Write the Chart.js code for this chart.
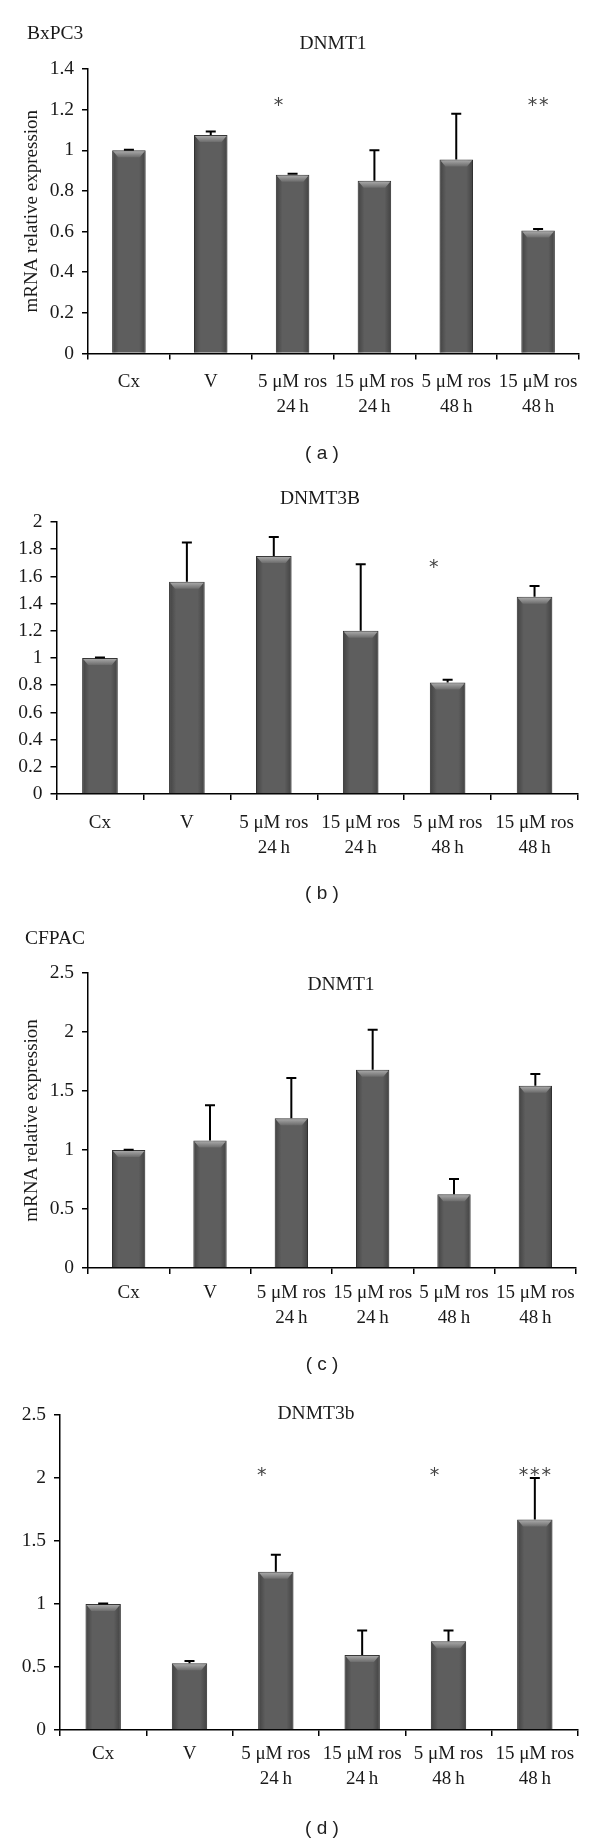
<!DOCTYPE html>
<html>
<head>
<meta charset="utf-8">
<script src="https://cdn.jsdelivr.net/npm/chart.js@4"></script>
<style>
  html, body { margin: 0; padding: 0; background: #fff; }
  body { width: 600px; height: 1842px; position: relative; overflow: hidden; }
  canvas { position: absolute; left: 0; }
  .t { position: absolute; font-family: "Liberation Serif", serif; font-size: 19.5px; color: #1a1a1a; white-space: nowrap; transform: translate(-50%, -50%); line-height: 1; }
  .l { transform: translate(0, -50%); }
  .p { font-family: "Liberation Sans", sans-serif; font-size: 19px; color: #222; }
</style>
</head>
<body>
<canvas id="ca" width="600" height="460" style="top:0px"></canvas>
<canvas id="cb" width="600" height="460" style="top:460px"></canvas>
<canvas id="cc" width="600" height="460" style="top:920px"></canvas>
<canvas id="cd" width="600" height="462" style="top:1380px"></canvas>

<div class="t l" style="left:27px; top:33px;">BxPC3</div>
<div class="t" style="left:333px; top:43px;">DNMT1</div>
<div class="t p" style="left:322px; top:452px;">( a )</div>

<div class="t" style="left:320px; top:498px;">DNMT3B</div>
<div class="t p" style="left:322px; top:892px;">( b )</div>

<div class="t l" style="left:25px; top:938px;">CFPAC</div>
<div class="t" style="left:341px; top:984px;">DNMT1</div>
<div class="t p" style="left:322px; top:1363px;">( c )</div>

<div class="t" style="left:316px; top:1413px;">DNMT3b</div>
<div class="t p" style="left:322px; top:1827px;">( d )</div>

<script>
// ---------- DATA ----------
const categories = [
  ['Cx'],
  ['V'],
  ['5 \u03BCM ros', '24\u2009h'],
  ['15 \u03BCM ros', '24\u2009h'],
  ['5 \u03BCM ros', '48\u2009h'],
  ['15 \u03BCM ros', '48\u2009h']
];

// (a) BxPC3 DNMT1
const bxpc3Dnmt1 = [1.0, 1.075, 0.88, 0.85, 0.955, 0.605];
const bxpc3Dnmt1Sd = [0.003, 0.017, 0.004, 0.15, 0.225, 0.008];
const bxpc3Dnmt1Stars = ['', '', '*', '', '', '**'];
const bxpc3Dnmt1StarLevel = 1.247;
const bxpc3Dnmt1YMax = 1.4, bxpc3Dnmt1YStep = 0.2;

// (b) BxPC3 DNMT3B
const bxpc3Dnmt3b = [1.0, 1.56, 1.75, 1.20, 0.82, 1.45];
const bxpc3Dnmt3bSd = [0.003, 0.29, 0.14, 0.49, 0.02, 0.08];
const bxpc3Dnmt3bStars = ['', '', '', '', '*', ''];
const bxpc3Dnmt3bStarLevel = 1.70;
const bxpc3Dnmt3bYMax = 2, bxpc3Dnmt3bYStep = 0.2;

// (c) CFPAC DNMT1
const cfpacDnmt1 = [1.0, 1.08, 1.27, 1.68, 0.625, 1.545];
const cfpacDnmt1Sd = [0.003, 0.30, 0.34, 0.34, 0.13, 0.10];
const cfpacDnmt1Stars = ['', '', '', '', '', ''];
const cfpacDnmt1StarLevel = 2.0;
const cfpacDnmt1YMax = 2.5, cfpacDnmt1YStep = 0.5;

// (d) CFPAC DNMT3b
const cfpacDnmt3b = [1.0, 0.53, 1.255, 0.595, 0.705, 1.67];
const cfpacDnmt3bSd = [0.003, 0.017, 0.135, 0.195, 0.085, 0.33];
const cfpacDnmt3bStars = ['', '', '*', '', '*', '***'];
const cfpacDnmt3bStarLevel = 2.063;
const cfpacDnmt3bYMax = 2.5, cfpacDnmt3bYStep = 0.5;

const yTitleText = 'mRNA relative expression';

// ---------- DRAWING ----------
const SERIF = '"Liberation Serif", serif';

const barDecor = {
  id: 'barDecor',
  afterDatasetsDraw(chart, args, opts) {
    const ctx = chart.ctx;
    const meta = chart.getDatasetMeta(0);
    const ys = chart.scales.y;
    const data = chart.data.datasets[0].data;
    ctx.save();
    meta.data.forEach((bar, i) => {
      const p = bar.getProps(['x', 'y', 'base', 'width'], true);
      const x = p.x, y = p.y, base = p.base, w = p.width;
      const l = x - w / 2, r = x + w / 2;
      // side shading
      const g = ctx.createLinearGradient(l, 0, r, 0);
      g.addColorStop(0, 'rgba(0,0,0,0.30)');
      g.addColorStop(0.2, 'rgba(0,0,0,0)');
      g.addColorStop(0.8, 'rgba(0,0,0,0)');
      g.addColorStop(1, 'rgba(0,0,0,0.30)');
      ctx.fillStyle = g;
      ctx.fillRect(l + 0.5, y + 0.5, w - 1, base - y - 0.5);
      // top bevel
      const bh = 7, inset = 6;
      const gv = ctx.createLinearGradient(0, y, 0, y + bh);
      gv.addColorStop(0, '#b0b0b0');
      gv.addColorStop(1, '#6c6c6c');
      ctx.beginPath();
      ctx.moveTo(l + 1, y + 1);
      ctx.lineTo(r - 1, y + 1);
      ctx.lineTo(r - inset, y + bh);
      ctx.lineTo(l + inset, y + bh);
      ctx.closePath();
      ctx.fillStyle = gv;
      ctx.fill();
      // error bar (upper)
      const yt = ys.getPixelForValue(data[i] + opts.sd[i]);
      ctx.strokeStyle = '#000';
      ctx.lineWidth = 2;
      ctx.beginPath();
      ctx.moveTo(x, y);
      ctx.lineTo(x, yt);
      ctx.moveTo(x - 5, yt);
      ctx.lineTo(x + 5, yt);
      ctx.stroke();
      // significance stars
      const s = opts.stars[i];
      if (s) {
        const fs = 19;
        ctx.font = fs + 'px "DejaVu Sans", sans-serif';
        ctx.fillStyle = '#444';
        ctx.textAlign = 'center';
        ctx.textBaseline = 'alphabetic';
        const sy = ys.getPixelForValue(opts.starLevel) + 0.55 * fs;
        const sx = x + (s.length === 1 ? -14 : 0);
        ctx.fillText(s.split('').join('\u200A'), sx, sy);
      }
    });
    ctx.restore();
  }
};

function fmtTick(v) {
  return String(Math.round(v * 10) / 10);
}

function makeChart(id, values, sd, stars, starLevel, yMax, yStep, showYTitle, area, canvasH, xPad) {
  return new Chart(document.getElementById(id), {
    type: 'bar',
    data: {
      labels: categories,
      datasets: [{
        data: values,
        backgroundColor: '#5e5e5e',
        borderColor: '#3a3a3a',
        borderWidth: 1,
        borderSkipped: 'bottom',
        barPercentage: 0.41,
        categoryPercentage: 1.0
      }]
    },
    options: {
      responsive: false,
      animation: false,
      events: [],
      layout: { padding: { left: 0, right: 600 - area.right, top: area.top, bottom: 0 } },
      plugins: {
        legend: { display: false },
        tooltip: { enabled: false },
        title: { display: false },
        barDecor: { sd: sd, stars: stars, starLevel: starLevel }
      },
      scales: {
        x: {
          offset: true,
          grid: { display: true, drawOnChartArea: false, drawTicks: true, tickLength: 6, color: '#000', lineWidth: 1.5, offset: true },
          border: { display: true, color: '#000', width: 1.5 },
          ticks: { color: '#1a1a1a', font: { family: SERIF, size: 19, lineHeight: 1.3 }, padding: xPad, maxRotation: 0, autoSkip: false },
          afterFit(s) { s.height = canvasH - area.bottom; }
        },
        y: {
          min: 0,
          max: yMax,
          ticks: { stepSize: yStep, color: '#1a1a1a', font: { family: SERIF, size: 19.5 }, padding: 8, callback: fmtTick },
          grid: { display: true, drawOnChartArea: false, drawTicks: true, tickLength: 6, color: '#000', lineWidth: 1.5 },
          border: { display: true, color: '#000', width: 1.5 },
          title: { display: showYTitle, text: yTitleText, color: '#1a1a1a', font: { family: SERIF, size: 19, lineHeight: 1.2 }, padding: { top: 20.6, bottom: 0 } },
          afterFit(s) { s.width = area.left; }
        }
      }
    },
    plugins: [barDecor]
  });
}

makeChart('ca', bxpc3Dnmt1, bxpc3Dnmt1Sd, bxpc3Dnmt1Stars, bxpc3Dnmt1StarLevel, bxpc3Dnmt1YMax, bxpc3Dnmt1YStep, true,
  { left: 88, right: 579, top: 69, bottom: 353.5 }, 460, 10);
makeChart('cb', bxpc3Dnmt3b, bxpc3Dnmt3bSd, bxpc3Dnmt3bStars, bxpc3Dnmt3bStarLevel, bxpc3Dnmt3bYMax, bxpc3Dnmt3bYStep, false,
  { left: 56.5, right: 578, top: 62, bottom: 334 }, 460, 10.5);
makeChart('cc', cfpacDnmt1, cfpacDnmt1Sd, cfpacDnmt1Stars, cfpacDnmt1StarLevel, cfpacDnmt1YMax, cfpacDnmt1YStep, true,
  { left: 88, right: 576, top: 53, bottom: 348 }, 460, 6.5);
makeChart('cd', cfpacDnmt3b, cfpacDnmt3bSd, cfpacDnmt3bStars, cfpacDnmt3bStarLevel, cfpacDnmt3bYMax, cfpacDnmt3bYStep, false,
  { left: 60, right: 578, top: 35, bottom: 350 }, 462, 5.5);
</script>
</body>
</html>
